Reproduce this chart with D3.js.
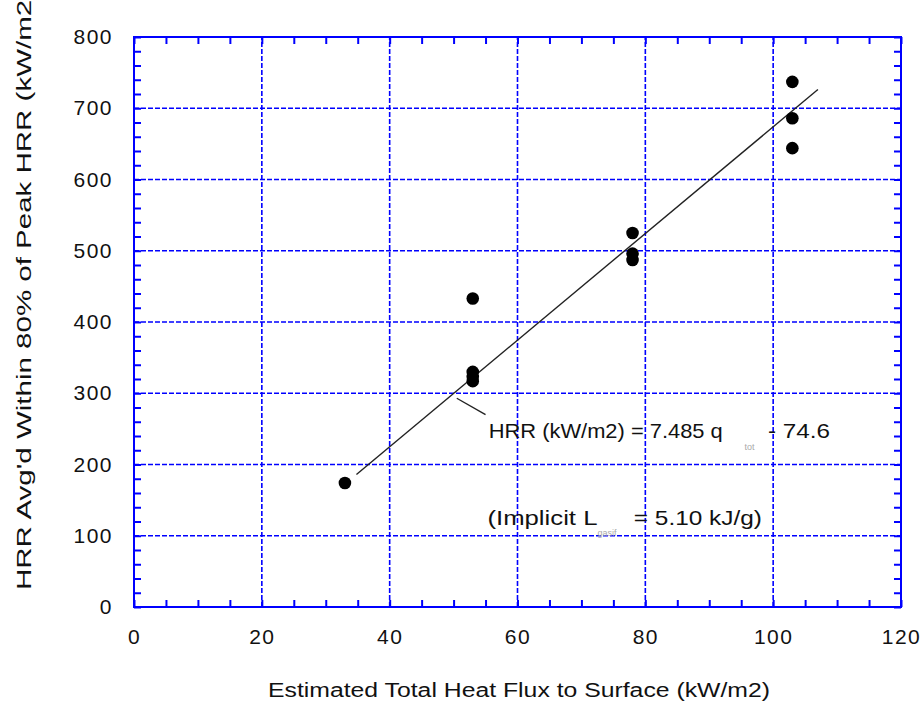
<!DOCTYPE html>
<html>
<head>
<meta charset="utf-8">
<style>
  body { margin: 0; background: #fff; }
  text { font-family: "Liberation Sans", Arial, sans-serif; fill: #111; }
  .grid line { stroke: #0000ff; stroke-width: 1.6; stroke-dasharray: 5,2; }
  .frame { fill: none; stroke: #0000ff; stroke-width: 2; }
  .ax line { stroke: #0000ff; stroke-width: 2; }
  .ax path { display: none; }
  .ax text { font-size: 21px; letter-spacing: 1.5px; }
</style>
<script src="https://d3js.org/d3.v7.min.js"></script>
</head>
<body>
<div class="container"></div>
<script>
// data
var heatFlux = [33, 53, 53, 53, 53, 78, 78, 78, 103, 103, 103];
var hrrAvg = [174, 433, 330, 323, 317, 525, 496, 487, 737, 686, 644];
var fitSlope = 7.485, fitIntercept = -74.6;
var fitRange = [34.8, 107];
var xTicks = [0, 20, 40, 60, 80, 100, 120];
var yTicks = [0, 100, 200, 300, 400, 500, 600, 700, 800];

var width = 922, height = 709;
var margin = {top: 37, right: 21, bottom: 102, left: 134};

var svg = d3.select(".container").append("svg")
  .attr("width", width).attr("height", height);

var x = d3.scaleLinear().domain([0, 120]).range([margin.left, width - margin.right]);
var y = d3.scaleLinear().domain([0, 800]).range([height - margin.bottom, margin.top]);

// gridlines (dashed blue)
var grid = svg.append("g").attr("class", "grid");
grid.selectAll(".gx").data(xTicks.slice(1, -1)).enter().append("line")
  .attr("x1", d => x(d)).attr("x2", d => x(d))
  .attr("y1", y(0)).attr("y2", y(800));
grid.selectAll(".gy").data(yTicks.slice(1, -1)).enter().append("line")
  .attr("y1", d => y(d)).attr("y2", d => y(d))
  .attr("x1", x(0)).attr("x2", x(120));

// minor ticks pointing inward on all four sides
var xMinor = d3.range(0, 121, 5), yMinor = d3.range(0, 801, 20);
svg.append("g").attr("class", "ax").attr("transform", "translate(0," + y(0) + ")")
  .call(d3.axisBottom(x).tickValues(xMinor).tickSize(-7).tickFormat(""));
svg.append("g").attr("class", "ax").attr("transform", "translate(0," + y(800) + ")")
  .call(d3.axisTop(x).tickValues(xMinor).tickSize(-7).tickFormat(""));
svg.append("g").attr("class", "ax").attr("transform", "translate(" + x(0) + ",0)")
  .call(d3.axisLeft(y).tickValues(yMinor).tickSize(-7).tickFormat(""));
svg.append("g").attr("class", "ax").attr("transform", "translate(" + x(120) + ",0)")
  .call(d3.axisRight(y).tickValues(yMinor).tickSize(-7).tickFormat(""));

// labelled axes (no tick marks, labels only)
svg.append("g").attr("class", "ax").attr("transform", "translate(0," + y(0) + ")")
  .call(d3.axisBottom(x).tickValues(xTicks).tickSize(0).tickPadding(22).tickFormat(d3.format("d")));
svg.append("g").attr("class", "ax").attr("transform", "translate(" + x(0) + ",0)")
  .call(d3.axisLeft(y).tickValues(yTicks).tickSize(0).tickPadding(21).tickFormat(d3.format("d")));

svg.append("rect").attr("class", "frame")
  .attr("x", x(0)).attr("y", y(800))
  .attr("width", x(120) - x(0)).attr("height", y(0) - y(800));

// regression line
svg.append("line")
  .attr("x1", x(fitRange[0])).attr("y1", y(fitSlope * fitRange[0] + fitIntercept))
  .attr("x2", x(fitRange[1])).attr("y2", y(fitSlope * fitRange[1] + fitIntercept))
  .attr("stroke", "#222").attr("stroke-width", 1.4);

// data points
svg.selectAll(".pt").data(heatFlux).enter().append("circle")
  .attr("cx", d => x(d)).attr("cy", (d, i) => y(hrrAvg[i]))
  .attr("r", 6.3).attr("fill", "#000");

// leader line for equation
svg.append("line")
  .attr("x1", x(50.5)).attr("y1", y(293))
  .attr("x2", x(55)).attr("y2", y(270))
  .attr("stroke", "#222").attr("stroke-width", 1.4);

// equation text
var eq = svg.append("g").attr("font-size", 21);
eq.append("text").attr("x", x(55.5)).attr("y", y(237))
  .attr("textLength", 234).attr("lengthAdjust", "spacingAndGlyphs")
  .text("HRR (kW/m2) = 7.485 q");
eq.append("text").attr("x", x(95.5)).attr("y", y(220))
  .attr("font-size", 9).style("fill", "#aaa").text("tot");
eq.append("text").attr("x", x(99.2)).attr("y", y(237))
  .attr("textLength", 62).attr("lengthAdjust", "spacingAndGlyphs")
  .text("- 74.6");

eq.append("text").attr("x", x(55.3)).attr("y", y(115))
  .attr("textLength", 110).attr("lengthAdjust", "spacingAndGlyphs")
  .text("(Implicit L");
eq.append("text").attr("x", x(72.5)).attr("y", y(100))
  .attr("font-size", 9).style("fill", "#aaa").text("gasif");
eq.append("text").attr("x", x(78.2)).attr("y", y(115))
  .attr("textLength", 128).attr("lengthAdjust", "spacingAndGlyphs")
  .text("= 5.10 kJ/g)");

// axis titles
svg.append("text").attr("x", 268).attr("y", 697)
  .attr("font-size", 20).attr("textLength", 502).attr("lengthAdjust", "spacingAndGlyphs")
  .text("Estimated Total Heat Flux to Surface (kW/m2)");
svg.append("text").attr("transform", "translate(31,590) rotate(-90)")
  .attr("font-size", 20).attr("textLength", 600).attr("lengthAdjust", "spacingAndGlyphs")
  .text("HRR Avg'd Within 80% of Peak HRR (kW/m2)");
</script>
</body>
</html>
